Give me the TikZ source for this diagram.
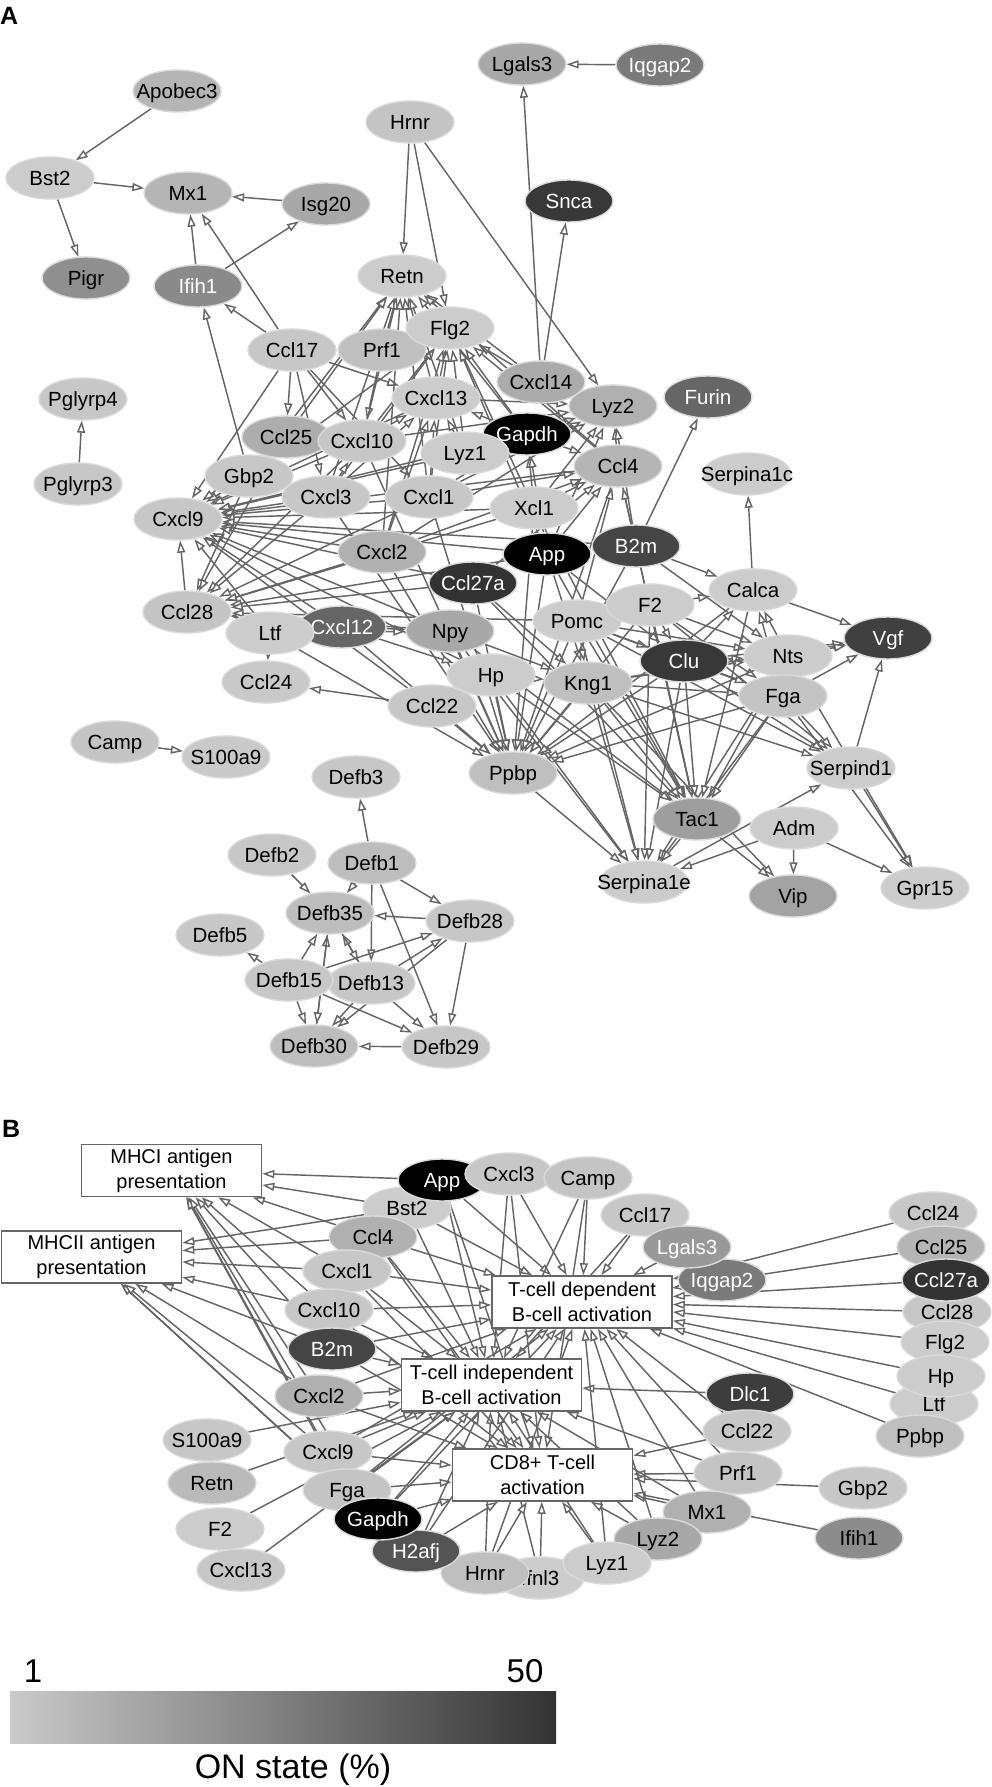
\documentclass[tikz,border=0pt]{standalone}
\usepackage{fontspec}
\setmainfont{Liberation Sans}
\usetikzlibrary{shapes.geometric,arrows.meta}
\pgfdeclarelayer{back}
\pgfdeclarelayer{bg}
\pgfsetlayers{back,bg,main}
\definecolor{edgec}{HTML}{656565}
\definecolor{rimc}{HTML}{DADADA}
\definecolor{boxc}{HTML}{666666}
\tikzset{
  gnode/.style={ellipse, minimum width=88pt, minimum height=42pt, inner sep=0pt, draw=rimc, line width=1.4pt},
  glbl/.style={inner sep=0pt, anchor=base, font=\fontsize{20.5}{22}\selectfont},
  lnk/.style={draw=edgec, line width=1.45pt, -{Triangle[length=12pt,width=8pt,fill=white]}},
  boxn/.style={rectangle, draw=boxc, line width=1.6pt, fill=white, minimum width=180pt, minimum height=52pt, inner sep=2pt, align=center, font=\fontsize{20}{25}\selectfont},
  plabel/.style={anchor=base west, inner sep=0pt, font=\bfseries\fontsize{25}{25}\selectfont}
}
\newcommand\gn[5]{\node[gnode,fill=black!#4] (#1) at (#2) {}; \node[glbl,text=#5] at ([yshift=-7.3pt]#1.center) {#3};}
\begin{document}
\begin{tikzpicture}[x=1pt,y=-1pt]
\begin{pgfonlayer}{back}
\fill[white] (0,0) rectangle (992,1787);
\end{pgfonlayer}
\useasboundingbox (0,0) rectangle (992,1787);

\node[plabel] (labA) at (0,25) {A};
\node[plabel] (labB) at (2,1137) {B};

% ---------------- Panel A nodes ----------------
\gn{apobec3}{177,91}{Apobec3}{29}{black}
\gn{bst2}{50,178}{Bst2}{20}{black}
\gn{mx1}{188,193}{Mx1}{29}{black}
\gn{isg20}{326,204}{Isg20}{34}{black}
\gn{pigr}{86,278}{Pigr}{44}{black}
\gn{ifih1}{198,286}{Ifih1}{46}{white}
\gn{hrnr}{410,122}{Hrnr}{23}{black}
\gn{lgals3}{522,64}{Lgals3}{34}{black}
\gn{iqgap2}{660,65}{Iqgap2}{52}{white}
\gn{snca}{569,201}{Snca}{78}{white}
\gn{retn}{402,276}{Retn}{20}{black}
\gn{ccl17}{292,350}{Ccl17}{22}{black}
\gn{prf1}{382,350}{Prf1}{25}{black}
\gn{flg2}{450,328}{Flg2}{20}{black}
\gn{cxcl14}{541,382}{Cxcl14}{33}{black}
\gn{lyz2}{613,406}{Lyz2}{31}{black}
\gn{furin}{708,397}{Furin}{60}{white}
\gn{cxcl13}{436,398}{Cxcl13}{20}{black}
\gn{pglyrp4}{83,399}{Pglyrp4}{22}{black}
\gn{pglyrp3}{78,484}{Pglyrp3}{22}{black}
\gn{gapdh}{527,434}{Gapdh}{100}{white}
\gn{ccl25}{286,437}{Ccl25}{32}{black}
\gn{cxcl10}{362,441}{Cxcl10}{22}{black}
\gn{lyz1}{465,453}{Lyz1}{20}{black}
\gn{ccl4}{618,466}{Ccl4}{29}{black}
\gn{serpina1c}{747,474}{Serpina1c}{20}{black}
\gn{gbp2}{249,476}{Gbp2}{22}{black}
\gn{cxcl3}{326,497}{Cxcl3}{22}{black}
\gn{cxcl1}{429,497}{Cxcl1}{22}{black}
\gn{xcl1}{534,508}{Xcl1}{20}{black}
\gn{cxcl9}{178,519}{Cxcl9}{22}{black}
\gn{cxcl2}{382,552}{Cxcl2}{31}{black}
\gn{app}{547,554}{App}{100}{white}
\gn{b2m}{636,546}{B2m}{73}{white}
\gn{ccl27a}{473,583}{Ccl27a}{80}{white}
\gn{calca}{753,590}{Calca}{20}{black}
\gn{pomc}{577,621}{Pomc}{20}{black}
\gn{f2}{650,605}{F2}{20}{black}
\gn{ccl28}{187,612}{Ccl28}{23}{black}
\gn{cxcl12}{342,627}{Cxcl12}{60}{white}
\gn{ltf}{270,633}{Ltf}{20}{black}
\gn{npy}{450,631}{Npy}{34}{black}
\gn{vgf}{888,638}{Vgf}{75}{white}
\gn{nts}{788,656}{Nts}{20}{black}
\gn{clu}{684,661}{Clu}{78}{white}
\gn{hp}{491,675}{Hp}{20}{black}
\gn{kng1}{588,683}{Kng1}{25}{black}
\gn{ccl24}{266,682}{Ccl24}{21}{black}
\gn{fga}{783,696}{Fga}{23}{black}
\gn{ccl22}{432,706}{Ccl22}{22}{black}
\gn{camp}{115,742}{Camp}{23}{black}
\gn{s100a9}{226,757}{S100a9}{21}{black}
\gn{ppbp}{513,773}{Ppbp}{25}{black}
\gn{serpind1}{851,768}{Serpind1}{20}{black}
\gn{defb3}{356,777}{Defb3}{22}{black}
\gn{tac1}{697,819}{Tac1}{38}{black}
\gn{adm}{794,828}{Adm}{20}{black}
\gn{defb2}{272,855}{Defb2}{22}{black}
\gn{defb1}{372,863}{Defb1}{26}{black}
\gn{serpina1e}{644,882}{Serpina1e}{20}{black}
\gn{gpr15}{925,888}{Gpr15}{20}{black}
\gn{vip}{793,896}{Vip}{36}{black}
\gn{defb35}{330,913}{Defb35}{26}{black}
\gn{defb28}{470,921}{Defb28}{22}{black}
\gn{defb5}{220,935}{Defb5}{22}{black}
\gn{defb13}{371,983}{Defb13}{22}{black}
\gn{defb15}{289,980}{Defb15}{22}{black}
\gn{defb30}{314,1046}{Defb30}{26}{black}
\gn{defb29}{446,1047}{Defb29}{22}{black}

% ---------------- Panel A edges ----------------
\begin{pgfonlayer}{bg}
\foreach \a/\b in {apobec3/bst2, bst2/mx1, bst2/pigr, isg20/mx1, ifih1/mx1, ifih1/isg20, ccl17/mx1, ccl17/ifih1, gbp2/ifih1,
  hrnr/retn, hrnr/flg2, hrnr/lyz2, cxcl14/lgals3, iqgap2/lgals3, cxcl14/snca, b2m/furin, calca/serpina1c, pglyrp3/pglyrp4, camp/s100a9,
  ccl17/ccl25, ccl17/cxcl10, ccl17/cxcl13, ccl17/cxcl3, ccl17/cxcl9, ccl17/cxcl1,
  prf1/retn, prf1/cxcl10, cxcl14/retn, cxcl14/flg2,
  cxcl13/retn, cxcl13/flg2, cxcl13/lyz2, cxcl13/cxcl9,
  cxcl10/retn, cxcl10/flg2, cxcl10/cxcl13, cxcl10/cxcl9, cxcl10/ccl28, cxcl10/lyz2, cxcl10/ppbp,
  cxcl3/retn, cxcl3/flg2, cxcl3/cxcl13, cxcl3/cxcl9, cxcl3/ccl28, cxcl3/ppbp, cxcl3/cxcl10,
  cxcl1/retn, cxcl1/flg2, cxcl1/cxcl13, cxcl1/cxcl9, cxcl1/ccl28, cxcl1/lyz2, cxcl1/ppbp, cxcl1/gapdh, cxcl1/ccl4,
  lyz1/retn, lyz1/flg2, lyz1/lyz2, lyz1/cxcl13, lyz1/cxcl9,
  gapdh/retn, gapdh/flg2, gapdh/lyz2, gapdh/cxcl13, gapdh/ccl4, gapdh/cxcl9,
  ccl4/lyz2, ccl4/flg2, ccl4/retn, ccl4/cxcl9, ccl4/ppbp, ccl4/tac1,
  xcl1/lyz2, xcl1/ccl4, xcl1/gapdh, xcl1/flg2, xcl1/cxcl9, xcl1/ccl28, xcl1/ppbp, xcl1/tac1,
  app/lyz2, app/ccl4, app/gapdh, app/flg2, app/cxcl9, app/ccl28, app/ppbp, app/tac1, app/kng1, app/clu,
  b2m/lyz2, b2m/ccl4, b2m/cxcl9, b2m/ppbp, b2m/tac1, b2m/nts, b2m/calca,
  cxcl2/retn, cxcl2/flg2, cxcl2/cxcl13, cxcl2/cxcl9, cxcl2/ccl28, cxcl2/ccl4, cxcl2/ppbp, cxcl2/lyz2,
  ccl27a/cxcl9, ccl27a/ccl28, ccl27a/ccl4, ccl27a/ppbp, ccl27a/tac1, ccl27a/kng1,
  cxcl12/cxcl9, cxcl12/ccl28, cxcl12/npy, cxcl12/ppbp, cxcl12/hp,
  npy/cxcl9, npy/ccl28, npy/ppbp, npy/tac1, npy/serpina1e, npy/kng1,
  ltf/ccl24, ltf/npy, ltf/cxcl9, ltf/ppbp,
  gbp2/cxcl9, gbp2/ccl28, gbp2/retn, gbp2/flg2,
  ccl25/retn, ccl25/cxcl9, ccl25/ccl28, ccl28/cxcl9,
  hp/ppbp, hp/serpina1e, hp/tac1, hp/cxcl9, hp/kng1,
  ccl22/ccl24, ccl22/ppbp, ccl22/cxcl9,
  pomc/ppbp, pomc/tac1, pomc/serpina1e, pomc/serpind1, pomc/clu, pomc/nts, pomc/fga, pomc/ccl4, pomc/ccl28, pomc/kng1,
  f2/ppbp, f2/tac1, f2/serpina1e, f2/clu, f2/calca, f2/nts, f2/fga, f2/serpind1,
  kng1/ppbp, kng1/tac1, kng1/serpina1e, kng1/serpind1, kng1/vgf, kng1/vip, kng1/nts, kng1/fga,
  clu/ppbp, clu/tac1, clu/serpina1e, clu/serpind1, clu/calca, clu/vgf, clu/nts, clu/fga,
  nts/vgf, nts/calca, nts/tac1, nts/serpina1e, nts/gpr15, nts/ppbp,
  fga/vgf, fga/calca, fga/tac1, fga/serpina1e, fga/serpind1, fga/gpr15, fga/ppbp,
  calca/vgf, calca/tac1, calca/ppbp, serpind1/vgf, serpind1/gpr15,
  adm/vip, adm/gpr15, adm/serpina1e, tac1/vip, tac1/serpina1e, serpina1e/serpind1, ppbp/serpina1e,
  defb1/defb3, defb2/defb35, defb1/defb35, defb1/defb28, defb1/defb13, defb1/defb29, defb28/defb35, defb28/defb29, defb28/defb30,
  defb15/defb5, defb15/defb35, defb30/defb35, defb13/defb35, defb35/defb13, defb15/defb28, defb13/defb28, defb15/defb30,
  defb13/defb30, defb35/defb30, defb15/defb29, defb13/defb29, defb29/defb30}
  \draw[lnk] (\a) -- (\b);
\end{pgfonlayer}

% ---------------- Panel B ----------------
\node[boxn] (mhc1) at (171.5,1170.5) {MHCI antigen\\presentation};
\node[boxn] (mhc2) at (91.5,1257) {MHCII antigen\\presentation};
\node[boxn] (tdb) at (582,1302) {T-cell dependent\\B-cell activation};
\node[boxn] (tib) at (491.5,1385) {T-cell independent\\B-cell activation};
\node[boxn] (cd8) at (542.5,1475) {CD8+ T-cell\\activation};

\gn{bbst2}{407,1208}{Bst2}{20}{black}
\gn{bapp}{442,1180}{App}{100}{white}
\gn{bcxcl3}{509,1174}{Cxcl3}{22}{black}
\gn{bcamp}{588,1178}{Camp}{23}{black}
\gn{bccl4}{373,1237}{Ccl4}{31}{black}
\gn{bcxcl1}{347,1271}{Cxcl1}{22}{black}
\gn{bcxcl10}{329,1310}{Cxcl10}{22}{black}
\gn{bb2m}{332,1349}{B2m}{73}{white}
\gn{bcxcl2}{319,1396}{Cxcl2}{31}{black}
\gn{bccl17}{645,1215}{Ccl17}{22}{black}
\gn{biqgap2}{722,1280}{Iqgap2}{52}{white}
\gn{blgals3}{687,1247}{Lgals3}{40}{white}
\gn{bccl24}{933,1213}{Ccl24}{22}{black}
\gn{bccl25}{941,1247}{Ccl25}{29}{black}
\gn{bccl28}{947,1312}{Ccl28}{22}{black}
\gn{bccl27a}{946,1280}{Ccl27a}{80}{white}
\gn{bflg2}{945,1342}{Flg2}{20}{black}
\gn{bltf}{934,1404}{Ltf}{20}{black}
\gn{bhp}{941,1376}{Hp}{20}{black}
\gn{bppbp}{920,1436}{Ppbp}{25}{black}
\gn{bdlc1}{750,1394}{Dlc1}{76}{white}
\gn{bccl22}{747,1431}{Ccl22}{22}{black}
\gn{bgbp2}{863,1488}{Gbp2}{22}{black}
\gn{bprf1}{738,1473}{Prf1}{23}{black}
\gn{bmx1}{707,1512}{Mx1}{31}{black}
\gn{bifih1}{859,1538}{Ifih1}{45}{black}
\gn{blyz2}{658,1539}{Lyz2}{34}{black}
\gn{bifnl3}{540,1578}{Ifnl3}{20}{black}
\gn{blyz1}{607,1563}{Lyz1}{20}{black}
\gn{bhrnr}{485,1573}{Hrnr}{25}{black}
\gn{bs100a9}{207,1440}{S100a9}{22}{black}
\gn{bretn}{212,1483}{Retn}{27}{black}
\gn{bf2}{220,1529}{F2}{20}{black}
\gn{bcxcl13}{241,1570}{Cxcl13}{22}{black}
\gn{bcxcl9}{328,1452}{Cxcl9}{22}{black}
\gn{bfga}{347,1490}{Fga}{23}{black}
\gn{bh2afj}{416,1551}{H2afj}{67}{white}
\gn{bgapdh}{378,1519}{Gapdh}{100}{white}

\begin{pgfonlayer}{bg}
\foreach \a/\b in {bapp/mhc1, bapp/tdb, bapp/tib, bapp/cd8,
  bbst2/mhc1, bbst2/mhc2, bbst2/tdb, bbst2/tib,
  bcxcl3/tdb, bcxcl3/tib, bcxcl3/cd8, bcamp/tdb, bcamp/tib, bcamp/cd8,
  bccl17/tdb, bccl17/tib, blgals3/tdb, biqgap2/tdb,
  bccl24/tdb, bccl25/tdb, bccl27a/tdb, bccl28/tdb, bflg2/tdb, bhp/tdb, bltf/tdb, bppbp/tdb,
  bdlc1/tib, bccl22/cd8, bccl22/tdb, bprf1/cd8, bprf1/tdb, bprf1/tib, bgbp2/cd8,
  bmx1/cd8, bmx1/tdb, bmx1/tib, bifih1/cd8,
  blyz2/cd8, blyz2/tdb, blyz2/tib, blyz1/cd8, blyz1/tdb, blyz1/tib,
  bifnl3/cd8, bifnl3/tib, bhrnr/cd8, bhrnr/tib, bhrnr/tdb,
  bh2afj/cd8, bh2afj/tib, bh2afj/tdb,
  bgapdh/cd8, bgapdh/tib, bgapdh/tdb, bgapdh/mhc1, bgapdh/mhc2,
  bfga/cd8, bfga/tib, bfga/mhc1, bfga/mhc2, bfga/tdb,
  bcxcl9/cd8, bcxcl9/tib, bcxcl9/mhc1, bcxcl9/mhc2, bcxcl9/tdb,
  bs100a9/tib, bretn/tib, bf2/tib, bcxcl13/tib,
  bcxcl2/tib, bcxcl2/mhc1, bcxcl2/mhc2, bcxcl2/tdb, bcxcl2/cd8,
  bb2m/tib, bb2m/mhc1, bb2m/mhc2, bb2m/tdb, bb2m/cd8,
  bcxcl10/mhc1, bcxcl10/mhc2, bcxcl10/tdb, bcxcl10/tib, bcxcl10/cd8,
  bcxcl1/mhc1, bcxcl1/mhc2, bcxcl1/tdb, bcxcl1/tib, bcxcl1/cd8,
  bccl4/mhc1, bccl4/mhc2, bccl4/tdb, bccl4/tib, bccl4/cd8}
  \draw[lnk] (\a) -- (\b);
\end{pgfonlayer}

% ---------------- Colour bar ----------------
\shade[left color=black!21, right color=black!80] (10,1691) rectangle (556,1743);
\node[anchor=base, inner sep=0pt, font=\fontsize{33}{33}\selectfont] (cb1) at (33,1682) {1};
\node[anchor=base, inner sep=0pt, font=\fontsize{33}{33}\selectfont] (cb50) at (525,1682) {50};
\node[anchor=base, inner sep=0pt, font=\fontsize{34}{34}\selectfont] (cbt) at (293,1778) {ON state (\%)};
\end{tikzpicture}
\end{document}
